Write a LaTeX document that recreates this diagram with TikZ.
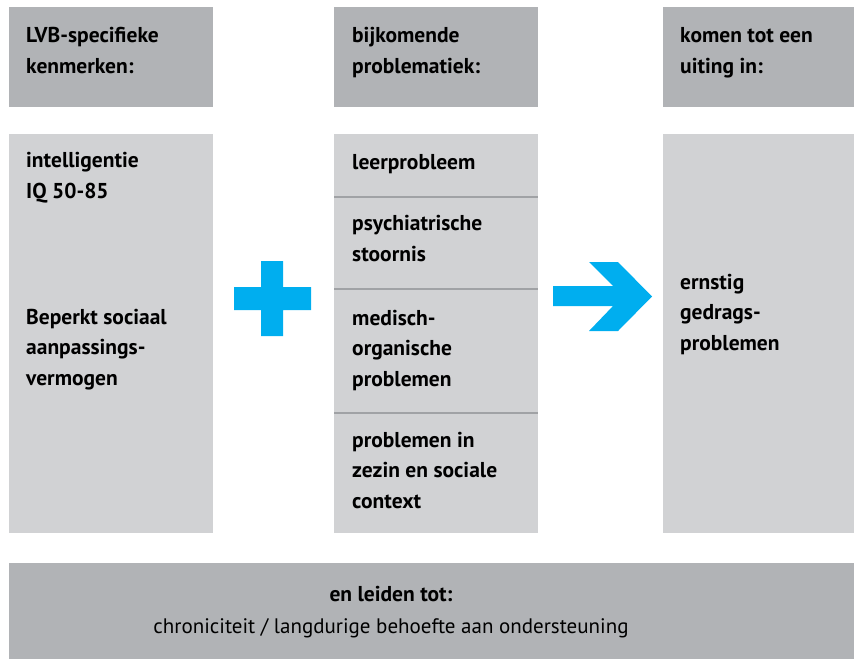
\documentclass[tikz,border=0pt]{standalone}
\usepackage{fontspec}
\setmainfont{PT Sans}
\definecolor{kopgrijs}{RGB}{177,179,182}
\definecolor{vakgrijs}{RGB}{209,210,212}
\definecolor{lijngrijs}{RGB}{160,162,165}
\definecolor{cyaan}{RGB}{0,174,239}
\tikzset{
  tekst/.style={anchor=base west, inner sep=0pt, align=left,
    font=\fontsize{21.5}{30.5}\selectfont\bfseries},
}
\begin{document}
\begin{tikzpicture}[x=1pt,y=-1pt]
    \useasboundingbox (0,0) rectangle (854,659);
    % kolommen
    \foreach \x/\w in {9/204,334/204,663/191} {
      \fill[kopgrijs] (\x,7) rectangle ++(\w,100);
      \fill[vakgrijs] (\x,134) rectangle ++(\w,399);
    }
    \foreach \y in {197,289,413} {
      \draw[lijngrijs,line width=2pt] (334,\y) -- (538,\y);
    }
    \fill[kopgrijs] (9,563) rectangle (854,659); %Balk onder
    % plus en pijl
    \fill[cyaan] (261,261) rectangle (283,336) (234,287) rectangle (311,310);
    \fill[cyaan] (553,286) -- (613,286) -- (589,262) -- (618,262) -- (652,296.5)
      -- (618,331) -- (589,331) -- (613,306) -- (553,306) -- cycle;
    % koppen (anker op de laatste regel)
    \node[tekst] (kop1) at (26,73) {LVB-specifieke\\kenmerken:};
    \node[tekst] (kop2) at (352,73) {bijkomende\\problematiek:};
    \node[tekst] (kop3) at (680,73) {komen tot een\\uiting in:};
    % linker kolom
    \node[tekst] (iq) at (26,198) {intelligentie\\IQ 50-85};
    \node[tekst] (sociaal) at (26,385) {Beperkt sociaal\\aanpassings-\\vermogen};
    % middelste kolom
    \node[tekst] (leer) at (352,169) {leerprobleem};
    \node[tekst] (psych) at (352,261) {psychiatrische\\stoornis};
    \node[tekst] (medisch) at (352,386) {medisch-\\organische\\problemen};
    \node[tekst] (zezin) at (352,508) {problemen in\\zezin en sociale\\context};
    % rechter kolom
    \node[tekst] (gedrag) at (680,350) {ernstig\\gedrags-\\problemen};
    % onderbalk
    \node[font=\fontsize{21.5}{30}\selectfont\bfseries, anchor=base, inner sep=0pt]
      (leiden) at (391,601) {en leiden tot:};
    \node[font=\fontsize{21}{30}\selectfont, anchor=base, inner sep=0pt]
      (gevolg) at (391,633) {chroniciteit / langdurige behoefte aan ondersteuning};
  \end{tikzpicture}
\end{document}
